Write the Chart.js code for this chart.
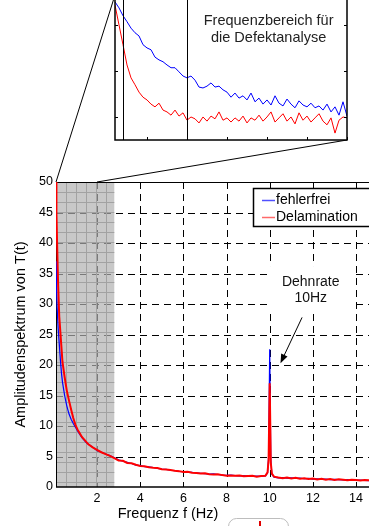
<!DOCTYPE html>
<html>
<head>
<meta charset="utf-8">
<script src="https://cdn.jsdelivr.net/npm/chart.js@4.4.0/dist/chart.umd.min.js"></script>
<style>
  html, body { margin: 0; padding: 0; background: #fff; overflow: hidden; }
  #wrap { position: relative; width: 369px; height: 526px; }
  #mainChart { position: absolute; left: 0; top: 0; }
  #insetChart { position: absolute; left: 95px; top: -15px; }
</style>
</head>
<body>
<div id="wrap">
  <canvas id="mainChart" width="369" height="526"></canvas>
  <canvas id="insetChart" width="265" height="165"></canvas>
</div>
<script>
Chart.defaults.font.family = "'Liberation Sans', Arial, sans-serif";
Chart.defaults.color = '#000';
const FONT = "'Liberation Sans', Arial, sans-serif";

// main spectrum (Hz / amplitude)
const freq = [
  0.1, 0.12, 0.15, 0.2, 0.25, 0.3, 0.35, 0.4, 0.5, 0.6, 0.7, 0.8, 0.9, 1.0, 1.1, 1.2, 1.3, 1.4, 1.5, 1.6, 1.8, 2.0, 2.2, 2.4, 2.6, 2.8,
  3.0, 3.2, 3.4, 3.6, 3.8, 4.0, 4.2, 4.4, 4.6, 4.8, 5.0, 5.2, 5.4, 5.6, 5.8, 6.0, 6.2, 6.4, 6.6, 6.8, 7.0, 7.2, 7.4, 7.6, 7.8,
  8.0, 8.2, 8.4, 8.6, 8.8, 9.0, 9.2, 9.4, 9.6, 9.8,
  9.9, 9.95, 10.0, 10.05, 10.1,
  10.2, 10.4, 10.6, 10.8, 11.0, 11.2, 11.4, 11.6, 11.8, 12.0, 12.2, 12.4, 12.6, 12.8, 13.0, 13.2, 13.4, 13.6, 13.8, 14.0,
  14.2, 14.4, 14.6, 14.8
];
const fehlerfrei = [
  37, 33, 29.5, 26, 23.5, 21, 18.8, 17.2, 15, 13.3, 12, 11.1, 10.4, 9.8, 9.2, 8.6, 8.1, 7.7, 7.3, 7.0, 6.5, 6.0, 5.7, 5.4, 5.15, 4.8,
  4.45, 4.25, 4.05, 3.85, 3.6, 3.5, 3.35, 3.3, 3.2, 3.05, 2.95, 2.9, 2.75, 2.7, 2.55, 2.5, 2.45, 2.4, 2.3, 2.25, 2.2, 2.1, 2.15, 2.05, 1.95,
  1.9, 1.95, 1.85, 1.8, 1.85, 1.8, 1.75, 1.8, 1.75, 1.8,
  2.3, 5, 22.6, 4.5, 2.1,
  1.6, 1.5, 1.55, 1.45, 1.5, 1.4, 1.45, 1.35, 1.4, 1.3, 1.35, 1.25, 1.3, 1.2, 1.25, 1.2, 1.15, 1.2, 1.15, 1.1,
  1.15, 1.1, 1.05, 1.1
];
const delamination = [
  52, 45, 40, 33, 28, 25.5, 23, 20.5, 18.0, 15.8, 14.2, 12.7, 11.3, 10.2, 9.4, 8.8, 8.2, 7.8, 7.4, 7.0, 6.5, 6.1, 5.7, 5.4, 5.1, 4.75,
  4.35, 4.3, 3.95, 3.9, 3.65, 3.45, 3.4, 3.25, 3.15, 3.1, 2.9, 2.85, 2.8, 2.65, 2.6, 2.45, 2.5, 2.35, 2.3, 2.2, 2.25, 2.1, 2.05, 2.1, 1.95,
  1.85, 1.9, 1.85, 1.9, 1.75, 1.8, 1.85, 1.7, 1.8, 1.85,
  2.4, 4.5, 17, 4, 2.2,
  1.7, 1.55, 1.45, 1.55, 1.4, 1.5, 1.35, 1.45, 1.3, 1.4, 1.25, 1.35, 1.2, 1.3, 1.15, 1.25, 1.2, 1.1, 1.2, 1.15,
  1.05, 1.15, 1.1, 1.05
];
const xTicks = [2, 4, 6, 8, 10, 12, 14];
const yTicks = [0, 5, 10, 15, 20, 25, 30, 35, 40, 45, 50];
const xTitle = 'Frequenz f (Hz)';
const shadeEnd = 2.8;          // grey band, Hz
const zoomTo = 2;              // inset connector lands here, Hz
const note = { x: 11.9, y: 33.6, lines: ['Dehnrate', '10Hz'] };
const arrow = { from: [11.5, 27.8], to: [10.5, 20.3] };

// inset (zoomed low-frequency part)
const insetFreq = [
  0.10, 0.15, 0.20, 0.25, 0.30, 0.35, 0.40, 0.45, 0.50, 0.55, 0.60, 0.65, 0.70, 0.75, 0.80, 0.85, 0.90, 0.95, 1.00, 1.05,
  1.10, 1.15, 1.20, 1.25, 1.30, 1.35, 1.40, 1.45, 1.50, 1.55, 1.60, 1.65, 1.70, 1.75, 1.80, 1.85, 1.90, 1.95, 2.00, 2.05,
  2.10, 2.15, 2.20, 2.25, 2.30, 2.35, 2.40, 2.45, 2.50, 2.55, 2.60, 2.65, 2.70, 2.75, 2.80, 2.85, 2.90, 2.95, 3.00
];
const insetFehlerfrei = [
  3.0, 2.87, 2.70, 2.57, 2.43, 2.33, 2.26, 2.07, 2.0, 1.96, 1.80, 1.74, 1.70, 1.63, 1.57, 1.57, 1.48, 1.39, 1.35, 1.39,
  1.30, 1.15, 1.13, 1.17, 1.24, 1.15, 1.17, 1.09, 1.04, 0.93, 1.02, 0.91, 0.96, 0.87, 1.02, 0.83, 0.91, 0.78, 0.87, 0.76,
  0.96, 0.80, 0.74, 0.89, 0.78, 0.70, 0.85, 0.76, 0.72, 0.80, 0.70, 0.74, 0.65, 0.78, 0.61, 0.72, 0.54, 0.83, 0.52
];
const insetDelamination = [
  2.93, 2.5, 2.07, 1.63, 1.35, 1.2, 1.04, 0.93, 0.87, 0.78, 0.72, 0.80, 0.65, 0.61, 0.54, 0.65, 0.52, 0.59, 0.43, 0.50,
  0.46, 0.37, 0.50, 0.41, 0.52, 0.46, 0.61, 0.43, 0.48, 0.39, 0.48, 0.41, 0.52, 0.37, 0.48, 0.43, 0.54, 0.41, 0.50, 0.61,
  0.39, 0.48, 0.57, 0.41, 0.50, 0.35, 0.59, 0.43, 0.52, 0.39, 0.48, 0.57, 0.41, 0.33, 0.48, 0.15, 0.43, 0.50, 0.48
];
const insetXTicks = [0.5, 1, 1.5, 2, 2.5, 3];
const insetYTicks = [0.5, 1.5, 2.5];
const insetMarks = [0.2, 1.0];
const insetNote = { x: 2.02, y: 2.59, lines: ['Frequenzbereich für', 'die Defektanalyse'] };

const toPoints = (xs, ys) => xs.map((v, i) => ({ x: v, y: ys[i] }));

// ---------- inset ----------
const insetDeco = {
  id: 'insetDeco',
  beforeDraw(chart) {
    const { ctx, chartArea: a } = chart;
    ctx.save();
    ctx.fillStyle = '#fff';
    ctx.fillRect(a.left, a.top, a.right - a.left, a.bottom - a.top);
    ctx.restore();
  },
  afterDatasetsDraw(chart) {
    const { ctx, chartArea: a, scales: { x, y } } = chart;
    ctx.save();
    ctx.strokeStyle = '#000';
    ctx.lineWidth = 1;
    insetMarks.forEach(v => {
      const px = Math.round(x.getPixelForValue(v)) + 0.5;
      ctx.beginPath(); ctx.moveTo(px, a.top); ctx.lineTo(px, a.bottom); ctx.stroke();
    });
    insetXTicks.forEach(v => {
      const px = Math.round(x.getPixelForValue(v)) + 0.5;
      ctx.beginPath();
      ctx.moveTo(px, a.bottom); ctx.lineTo(px, a.bottom - 3);
      ctx.moveTo(px, a.top); ctx.lineTo(px, a.top + 3);
      ctx.stroke();
    });
    insetYTicks.forEach(v => {
      const py = Math.round(y.getPixelForValue(v)) + 0.5;
      ctx.beginPath();
      ctx.moveTo(a.left, py); ctx.lineTo(a.left + 3, py);
      ctx.moveTo(a.right, py); ctx.lineTo(a.right - 3, py);
      ctx.stroke();
    });
    ctx.lineWidth = 1.5;
    ctx.strokeRect(a.left, a.top, a.right - a.left, a.bottom - a.top);
    ctx.fillStyle = '#222';
    ctx.font = '14.5px ' + FONT;
    ctx.textAlign = 'center';
    ctx.textBaseline = 'middle';
    const tx = x.getPixelForValue(insetNote.x), ty = y.getPixelForValue(insetNote.y);
    insetNote.lines.forEach((t, i) => ctx.fillText(t, tx, ty + i * 17));
    ctx.restore();
  }
};

const insetCanvas = document.getElementById('insetChart');
const insetChart = new Chart(insetCanvas, {
  type: 'line',
  data: {
    datasets: [
      { data: toPoints(insetFreq, insetFehlerfrei), borderColor: '#0000ff', borderWidth: 1, pointRadius: 0, tension: 0, order: 1 },
      { data: toPoints(insetFreq, insetDelamination), borderColor: '#ff0000', borderWidth: 1, pointRadius: 0, tension: 0, order: 0 }
    ]
  },
  options: {
    responsive: false,
    animation: false,
    layout: { padding: { left: 20, right: 13, top: 10, bottom: 10 } },
    plugins: { legend: { display: false }, tooltip: { enabled: false } },
    scales: {
      x: { type: 'linear', display: false, min: 0.1, max: 3.0 },
      y: { type: 'linear', display: false, min: 0, max: 3.15 }
    }
  },
  plugins: [insetDeco]
});

// ---------- main ----------
const mainDeco = {
  id: 'mainDeco',
  beforeDatasetsDraw(chart) {
    const { ctx, chartArea: a, scales: { x, y } } = chart;
    ctx.save();
    ctx.strokeStyle = '#000';
    ctx.lineWidth = 1;
    ctx.setLineDash([7, 5]);
    xTicks.forEach(v => {
      const px = Math.round(x.getPixelForValue(v)) + 0.5;
      ctx.beginPath(); ctx.moveTo(px, a.top); ctx.lineTo(px, a.bottom); ctx.stroke();
    });
    yTicks.slice(1, -1).forEach(v => {
      const py = Math.round(y.getPixelForValue(v)) + 0.5;
      ctx.beginPath(); ctx.moveTo(a.left, py); ctx.lineTo(a.right, py); ctx.stroke();
    });
    ctx.setLineDash([]);

    // grey band over the low-frequency range
    const sx = x.getPixelForValue(shadeEnd);
    ctx.fillStyle = 'rgba(175,175,175,0.69)';
    ctx.fillRect(a.left, a.top, sx - a.left, a.bottom - a.top);
    ctx.strokeStyle = '#a2a2a2';
    ctx.beginPath();
    for (let px = a.left + 10.5; px < sx; px += 10) { ctx.moveTo(px, a.top); ctx.lineTo(px, a.bottom); }
    for (let py = a.top + 10.5; py < a.bottom; py += 10) { ctx.moveTo(a.left, py); ctx.lineTo(sx, py); }
    ctx.stroke();

    // annotation backdrop hides the grid behind the text
    ctx.font = '14px ' + FONT;
    const nx = x.getPixelForValue(note.x), ny = y.getPixelForValue(note.y);
    const w = Math.max(...note.lines.map(t => ctx.measureText(t).width));
    ctx.fillStyle = '#fff';
    ctx.fillRect(nx - w / 2 - 14, ny - 16, w + 28, 16 * note.lines.length + 15);

    ctx.strokeStyle = '#000';
    ctx.beginPath();
    ctx.moveTo(a.left + 0.5, a.top); ctx.lineTo(a.left + 0.5, a.bottom);
    ctx.moveTo(a.left, a.top + 0.5); ctx.lineTo(a.right, a.top + 0.5);
    ctx.stroke();
    ctx.lineWidth = 1.5;
    ctx.beginPath();
    ctx.moveTo(a.left, a.bottom); ctx.lineTo(a.right, a.bottom);
    ctx.stroke();
    ctx.restore();
  },
  afterDraw(chart) {
    const { ctx, chartArea: a, scales: { x, y } } = chart;
    ctx.save();

    // x title sits left of the axis centre in the original figure
    ctx.font = '14.5px ' + FONT;
    ctx.fillStyle = '#000';
    ctx.textAlign = 'center';
    ctx.textBaseline = 'middle';
    ctx.fillText(xTitle, a.left + 112, 514);

    // legend
    const lx = 253.5, ly = 188.5;
    ctx.fillStyle = '#fff';
    ctx.fillRect(lx, ly, 130, 38);
    ctx.strokeStyle = '#000';
    ctx.lineWidth = 1.5;
    ctx.strokeRect(lx, ly, 130, 38);
    ctx.font = '14px ' + FONT;
    ctx.textAlign = 'left';
    chart.data.datasets.forEach((ds, i) => {
      const yy = 200.5 + i * 17;
      ctx.strokeStyle = ds.legendColor;
      ctx.lineWidth = 1.5;
      ctx.beginPath(); ctx.moveTo(262, yy); ctx.lineTo(275, yy); ctx.stroke();
      ctx.fillStyle = '#000';
      ctx.fillText(ds.label, 276, yy);
    });

    // annotation
    ctx.textAlign = 'center';
    ctx.fillStyle = '#111';
    const nx = x.getPixelForValue(note.x), ny = y.getPixelForValue(note.y);
    note.lines.forEach((t, i) => ctx.fillText(t, nx, ny + i * 16));
    const x1 = x.getPixelForValue(arrow.from[0]), y1 = y.getPixelForValue(arrow.from[1]);
    const x2 = x.getPixelForValue(arrow.to[0]), y2 = y.getPixelForValue(arrow.to[1]);
    const ang = Math.atan2(y2 - y1, x2 - x1);
    ctx.strokeStyle = '#000';
    ctx.lineWidth = 1;
    ctx.beginPath(); ctx.moveTo(x1, y1); ctx.lineTo(x2 - 6 * Math.cos(ang), y2 - 6 * Math.sin(ang)); ctx.stroke();
    ctx.fillStyle = '#000';
    ctx.beginPath();
    ctx.moveTo(x2, y2);
    ctx.lineTo(x2 - 9 * Math.cos(ang) + 3.5 * Math.sin(ang), y2 - 9 * Math.sin(ang) - 3.5 * Math.cos(ang));
    ctx.lineTo(x2 - 9 * Math.cos(ang) - 3.5 * Math.sin(ang), y2 - 9 * Math.sin(ang) + 3.5 * Math.cos(ang));
    ctx.closePath();
    ctx.fill();

    // connectors from inset corners to the main axes
    const ia = insetChart.chartArea;
    const ox = insetCanvas.offsetLeft, oy = insetCanvas.offsetTop;
    ctx.strokeStyle = '#000';
    ctx.lineWidth = 1;
    ctx.beginPath();
    ctx.moveTo(ox + ia.left, oy + ia.top); ctx.lineTo(x.getPixelForValue(x.min), a.top);
    ctx.moveTo(ox + ia.right, oy + ia.bottom); ctx.lineTo(x.getPixelForValue(zoomTo), a.top);
    ctx.stroke();

    // clipped widget edge at the bottom of the figure
    ctx.strokeStyle = '#bdbdbd';
    ctx.beginPath();
    ctx.roundRect(228.5, 518.5, 60, 20, 8);
    ctx.stroke();
    ctx.strokeStyle = '#e00000';
    ctx.lineWidth = 2;
    ctx.beginPath(); ctx.moveTo(260, 521); ctx.lineTo(260, 526); ctx.stroke();
    ctx.restore();
  }
};

new Chart(document.getElementById('mainChart'), {
  type: 'line',
  data: {
    datasets: [
      { label: 'fehlerfrei', data: toPoints(freq, fehlerfrei), borderColor: '#0000ff', legendColor: '#5050ff',
        borderWidth: 1.2, pointRadius: 0, tension: 0, order: 1 },
      { label: 'Delamination', data: toPoints(freq, delamination), borderColor: '#ff0000', legendColor: '#ff6a6a',
        borderWidth: 2, pointRadius: 0, tension: 0, order: 0 }
    ]
  },
  options: {
    responsive: false,
    animation: false,
    layout: { padding: { top: 182, left: 0, right: 0, bottom: 0 } },
    plugins: { legend: { display: false }, tooltip: { enabled: false } },
    scales: {
      x: {
        type: 'linear', min: 0.1, max: 14.6,
        afterBuildTicks: s => { s.ticks = xTicks.map(v => ({ value: v })); },
        afterFit: s => { s.height = 39; },
        grid: { display: false, drawTicks: false },
        border: { display: false },
        ticks: { font: { size: 12.5 }, padding: 4, maxRotation: 0 },
        title: { display: false }
      },
      y: {
        type: 'linear', min: 0, max: 50,
        afterBuildTicks: s => { s.ticks = yTicks.map(v => ({ value: v })); },
        afterFit: s => { s.width = 56; },
        grid: { display: false, drawTicks: false },
        border: { display: false },
        ticks: { font: { size: 12.5 }, padding: 3 },
        title: { display: true, text: 'Amplitudenspektrum von T(t)', font: { size: 14.5 }, padding: { top: 12.5, bottom: 0 } }
      }
    }
  },
  plugins: [mainDeco]
});
</script>
</body>
</html>
